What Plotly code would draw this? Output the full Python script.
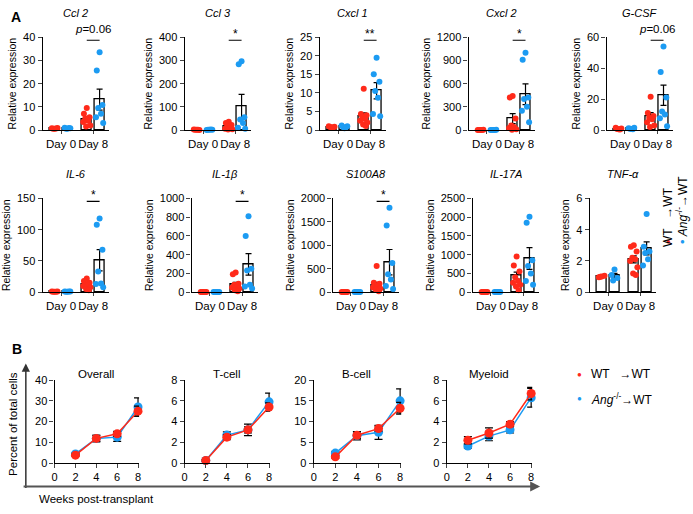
import numpy as np
import plotly.graph_objects as go

W, H = 693, 514
RED = "#FF2A1A"
BLUE = "#1C9BF2"
FONT = "Arial, 'Liberation Sans', Helvetica, sans-serif"

# ---------------- Panel A data ----------------
genes = ["Ccl 2", "Ccl 3", "Cxcl 1", "Cxcl 2", "G-CSF", "IL-6", "IL-1β", "S100A8", "IL-17A", "TNF-α"]
y_max = [40, 400, 25, 1200, 60, 150, 1000, 2000, 2500, 6]
y_step = [10, 100, 5, 300, 20, 50, 200, 500, 500, 2]
sig_labels = ["<i>p</i>=0.06", "*", "**", "*", "<i>p</i>=0.06", "*", "*", "*", "", ""]
day_labels = ["Day 0", "Day 8"]

# bar order: WT Day0, Ang Day0, WT Day8, Ang Day8
bar_means = {
    "Ccl 2": [0.7, 0.8, 4.6, 13.1],
    "Ccl 3": [1, 1, 15, 104],
    "Cxcl 1": [0.8, 0.9, 3.6, 10.6],
    "Cxcl 2": [2, 2, 147, 463],
    "G-CSF": [0.8, 1.0, 9, 22.5],
    "IL-6": [0.8, 0.9, 12, 51],
    "IL-1β": [1, 1, 80, 296],
    "S100A8": [2, 2, 150, 640],
    "IL-17A": [3, 3, 440, 900],
    "TNF-α": [1.0, 1.05, 2.1, 2.8],
}
bar_sems = {
    "Ccl 2": [0.1, 0.1, 0.9, 4.5],
    "Ccl 3": [0.3, 0.3, 4.5, 50],
    "Cxcl 1": [0.1, 0.15, 1.0, 2.2],
    "Cxcl 2": [1, 1, 65, 135],
    "G-CSF": [0.2, 0.2, 2.3, 6.5],
    "IL-6": [0.1, 0.1, 2, 17],
    "IL-1β": [0.3, 0.3, 25, 115],
    "S100A8": [0.5, 0.5, 60, 270],
    "IL-17A": [1, 1, 95, 290],
    "TNF-α": [0.03, 0.15, 0.22, 0.42],
}
pts_wt_d0 = {
    "Ccl 2": [0.5, 0.8, 0.9, 0.6, 0.7],
    "Ccl 3": [1, 2, 0.5, 1.5, 1],
    "Cxcl 1": [0.7, 1.0, 0.9, 0.8, 0.6],
    "Cxcl 2": [1, 2, 3, 1, 2],
    "G-CSF": [0.5, 1.5, 1.0, 0.7, 0.4],
    "IL-6": [0.5, 1.0, 1.2, 0.8, 0.6],
    "IL-1β": [1, 2, 0.5, 1.5, 1],
    "S100A8": [2, 3, 1, 2, 2],
    "IL-17A": [3, 4, 2, 3, 3],
    "TNF-α": [1.0, 0.95, 1.05, 0.98],
}
pts_ang_d0 = {
    "Ccl 2": [0.6, 1.0, 0.8, 0.5, 0.9],
    "Ccl 3": [1, 0.5, 1.5, 1, 2],
    "Cxcl 1": [0.5, 1.2, 1.0, 0.8, 0.7],
    "Cxcl 2": [1, 2, 3, 2, 1],
    "G-CSF": [0.6, 1.2, 1.5, 0.9, 0.5],
    "IL-6": [0.6, 1.1, 0.9, 0.8, 1.0],
    "IL-1β": [1, 0.5, 1.5, 1, 2],
    "S100A8": [2, 1, 3, 2, 2],
    "IL-17A": [3, 2, 4, 3, 3],
    "TNF-α": [1.45, 1.1, 0.9, 0.75],
}
pts_wt_d8 = {
    "Ccl 2": [9.5, 7, 5.5, 5, 4, 3.5, 2, 1.5],
    "Ccl 3": [36, 30, 22, 14, 10, 6, 3, 2],
    "Cxcl 1": [11.1, 4.3, 4, 3.5, 3, 2.5, 2, 1.5, 1.1],
    "Cxcl 2": [440, 420, 150, 60, 40, 25, 10, 5],
    "G-CSF": [21.5, 11, 9, 8, 7, 5, 3, 2],
    "IL-6": [22, 18, 15, 13, 12, 10, 8, 5, 3],
    "IL-1β": [210, 190, 90, 80, 70, 50, 40, 20, 10],
    "S100A8": [560, 200, 180, 150, 120, 100, 80, 50, 20],
    "IL-17A": [950, 710, 550, 400, 300, 250, 200, 150, 50],
    "TNF-α": [3.0, 2.9, 2.6, 2.2, 2.1, 2.0, 1.6, 1.2, 1.1],
}
pts_ang_d8 = {
    "Ccl 2": [33.5, 25.7, 10.8, 9.5, 7, 5.5, 3],
    "Ccl 3": [297, 284, 55, 45, 30, 10, 5],
    "Cxcl 1": [19.5, 15, 13, 10.5, 8.7, 4.3, 3.7],
    "Cxcl 2": [1000, 910, 420, 400, 300, 250, 100],
    "G-CSF": [54, 37.5, 21, 12, 10, 7.7, 2.5],
    "IL-6": [118, 108, 68, 33, 14, 13, 8],
    "IL-1β": [810, 600, 250, 230, 80, 60, 40],
    "S100A8": [1800, 1420, 620, 380, 270, 130, 70],
    "IL-17A": [2010, 1850, 850, 700, 500, 300, 200],
    "TNF-α": [5.0, 2.9, 2.6, 2.5, 2.1, 1.7],
}

# ---------------- Panel B data ----------------
weeks = [2, 4, 6, 8]
lineages = ["Overall", "T-cell", "B-cell", "Myeloid"]
lin_ymax = [40, 8, 20, 8]
lin_step = [10, 2, 5, 2]
wt_mean = {"Overall": [3.8, 11.9, 14.1, 25.0], "T-cell": [0.25, 2.5, 3.2, 5.4],
           "B-cell": [1.5, 6.7, 8.3, 13.2], "Myeloid": [2.2, 2.9, 3.75, 6.7]}
wt_err = {"Overall": [0.5, 1.5, 1.2, 2.4], "T-cell": [0.08, 0.25, 0.3, 0.4],
          "B-cell": [0.3, 0.8, 0.6, 1.4], "Myeloid": [0.35, 0.5, 0.25, 0.6]}
ang_mean = {"Overall": [4.4, 11.8, 12.5, 27.0], "T-cell": [0.25, 2.7, 3.2, 5.9],
            "B-cell": [2.4, 6.6, 7.4, 15.0], "Myeloid": [1.65, 2.6, 3.2, 6.3]}
ang_err = {"Overall": [0.5, 1.6, 2.0, 4.4], "T-cell": [0.08, 0.3, 0.55, 0.85],
           "B-cell": [0.4, 1.0, 1.7, 2.9], "Myeloid": [0.2, 0.45, 0.3, 0.9]}

# ---------------- layout helpers ----------------
def px(x):
    return x / W

def py(y):
    return 1 - y / H

POS = [1, 2, 3.5, 4.5]
XR = [0.07, 5.25]
JIT = np.array([0.0, -0.22, 0.22, -0.11, 0.11, -0.28, 0.28, -0.05, 0.16, -0.16])
A_LEFT = [[40, 183, 319, 469, 608], [40, 190, 332, 473, 591]]
A_W = 67
A_TOP = [32, 197]
A_BOT = [127, 293]

fig = go.Figure()
layout = dict(width=W, height=H, margin=dict(l=0, r=0, t=0, b=0),
              paper_bgcolor="white", plot_bgcolor="white", showlegend=False,
              font=dict(family=FONT, color="black"), bargap=0)
annotations = []
shapes = []

for i, g in enumerate(genes):
    k = i + 1
    sfx = "" if k == 1 else str(k)
    xa, ya = "x" + sfx, "y" + sfx
    row, col = divmod(i, 5)
    left = A_LEFT[row][col]
    fig.add_trace(go.Bar(x=POS, y=bar_means[g], width=0.75, xaxis=xa, yaxis=ya,
                         marker=dict(color="white", line=dict(color="black", width=1.3)),
                         error_y=dict(type="data", array=bar_sems[g], color="black",
                                      thickness=1.2, width=3)))
    for gi, (pts, colr) in enumerate([(pts_wt_d0[g], RED), (pts_ang_d0[g], BLUE),
                                      (pts_wt_d8[g], RED), (pts_ang_d8[g], BLUE)]):
        n = len(pts)
        fig.add_trace(go.Scatter(x=POS[gi] + JIT[:n], y=pts, mode="markers",
                                 xaxis=xa, yaxis=ya, cliponaxis=False,
                                 marker=dict(color=colr, size=6, line=dict(width=0))))
    layout["xaxis" + sfx] = dict(domain=[px(left), px(left + A_W)], anchor=ya, range=XR,
                                 tickvals=[1.5, 4.0], ticktext=day_labels, showline=True,
                                 linecolor="black", linewidth=1.3, ticks="outside", ticklen=3,
                                 tickwidth=1.2, showgrid=False, zeroline=False,
                                 tickfont=dict(size=11.5))
    layout["yaxis" + sfx] = dict(domain=[py(A_BOT[row]), py(A_TOP[row])], anchor=xa,
                                 range=[0, y_max[i]], dtick=y_step[i], showline=True,
                                 linecolor="black", linewidth=1.3, ticks="outside", ticklen=4,
                                 tickwidth=1.2, showgrid=False, zeroline=False,
                                 tickfont=dict(size=11),
                                 title=dict(text="Relative expression", font=dict(size=10.5),
                                            standoff=4))
    annotations.append(dict(x=px(left + A_W / 2), y=py(A_TOP[row] - 25), xref="paper",
                            yref="paper", text="<i>" + g + "</i>", showarrow=False,
                            font=dict(size=11), xanchor="center", yanchor="middle"))
    if sig_labels[i]:
        yl = 0.968 * y_max[i]
        shapes.append(dict(type="line", xref=xa, yref=ya, x0=3.5, x1=4.5, y0=yl, y1=yl,
                           line=dict(color="black", width=1.1)))
        is_star = "*" in sig_labels[i]
        annotations.append(dict(x=4.0, y=yl, xref=xa, yref=ya, text=sig_labels[i],
                                showarrow=False, xanchor="center", yanchor="bottom",
                                yshift=-3 if is_star else 3,
                                font=dict(size=12 if is_star else 11.5)))

# ---------------- Panel B ----------------
B_LEFT = [52, 183, 313, 447]
B_R8 = [136, 268, 400, 532]
B_TOP, B_BOT = 383, 468
XB = [0, 8.1]
for j, lin in enumerate(lineages):
    k = 11 + j
    xa, ya = "x%d" % k, "y%d" % k
    right = B_LEFT[j] + (B_R8[j] - B_LEFT[j]) * XB[1] / 8
    for means, errs, colr in [(ang_mean, ang_err, BLUE), (wt_mean, wt_err, RED)]:
        fig.add_trace(go.Scatter(x=weeks, y=means[lin], mode="lines+markers",
                                 xaxis=xa, yaxis=ya, cliponaxis=False,
                                 line=dict(color=colr, width=1.5),
                                 marker=dict(color=colr, size=9),
                                 error_y=dict(type="data", array=errs[lin], color="black",
                                              thickness=1.2, width=4)))
    layout["xaxis%d" % k] = dict(domain=[px(B_LEFT[j]), px(right)], anchor=ya, range=XB,
                                 tickvals=[0, 2, 4, 6, 8], showline=True, linecolor="black",
                                 linewidth=1.3, ticks="outside", ticklen=4, tickwidth=1.2,
                                 showgrid=False, zeroline=False, tickfont=dict(size=11))
    layout["yaxis%d" % k] = dict(domain=[py(B_BOT), py(B_TOP)], anchor=xa,
                                 range=[0, lin_ymax[j]], dtick=lin_step[j], showline=True,
                                 linecolor="black", linewidth=1.3, ticks="outside", ticklen=4,
                                 tickwidth=1.2, showgrid=False, zeroline=False,
                                 tickfont=dict(size=11))
    annotations.append(dict(x=px((B_LEFT[j] + B_R8[j]) / 2), y=py(B_TOP - 6), xref="paper",
                            yref="paper", text=lin, showarrow=False, font=dict(size=11.5),
                            xanchor="center", yanchor="middle"))

# panel letters
annotations.append(dict(x=px(6), y=py(11), xref="paper", yref="paper", text="<b>A</b>",
                        showarrow=False, font=dict(size=14), xanchor="left", yanchor="middle"))
annotations.append(dict(x=px(7), y=py(351), xref="paper", yref="paper", text="<b>B</b>",
                        showarrow=False, font=dict(size=14), xanchor="left", yanchor="middle"))

# big arrows for panel B
annotations.append(dict(x=px(23), y=py(366), xref="paper", yref="paper", text="",
                        showarrow=True, ax=0, ay=126, axref="pixel", ayref="pixel",
                        arrowhead=2, arrowsize=1.1, arrowwidth=1.5, arrowcolor="#333"))
annotations.append(dict(x=px(541), y=py(492), xref="paper", yref="paper", text="",
                        showarrow=True, ax=-518, ay=0, axref="pixel", ayref="pixel",
                        arrowhead=2, arrowsize=1.1, arrowwidth=1.8, arrowcolor="#555"))
annotations.append(dict(x=px(10), y=py(428), xref="paper", yref="paper",
                        text="Percent of total cells", textangle=-90, showarrow=False,
                        font=dict(size=11.5), xanchor="center", yanchor="middle"))
annotations.append(dict(x=px(34), y=py(505), xref="paper", yref="paper",
                        text="Weeks post-transplant", showarrow=False,
                        font=dict(size=11.5), xanchor="left", yanchor="middle"))

# legends
WT_TXT = "WT   →WT"
ANG_TXT = "<i>Ang</i><sup>-/-</sup>→WT"
for yy, colr, txt in [(377, RED, WT_TXT), (402, BLUE, ANG_TXT)]:
    annotations.append(dict(x=px(581), y=py(yy), xref="paper", yref="paper", text="●",
                            showarrow=False, font=dict(size=8, color=colr),
                            xanchor="center", yanchor="middle"))
    annotations.append(dict(x=px(590), y=py(yy), xref="paper", yref="paper", text=txt,
                            showarrow=False, font=dict(size=12), xanchor="left",
                            yanchor="middle"))
for xx, yc, colr, txt in [(670, 216, RED, WT_TXT), (684, 205, BLUE, ANG_TXT)]:
    annotations.append(dict(x=px(xx), y=py(241), xref="paper", yref="paper", text="●",
                            showarrow=False, font=dict(size=8, color=colr),
                            xanchor="center", yanchor="middle"))
    annotations.append(dict(x=px(xx), y=py(yc), xref="paper", yref="paper", text=txt,
                            textangle=-90, showarrow=False, font=dict(size=12),
                            xanchor="center", yanchor="middle"))

layout["annotations"] = annotations
layout["shapes"] = shapes
fig.update_layout(**layout)
fig.write_html("out.html", config={"displayModeBar": False},
               post_script="document.body.style.margin='0';"
                           "document.body.style.overflow='hidden';")
